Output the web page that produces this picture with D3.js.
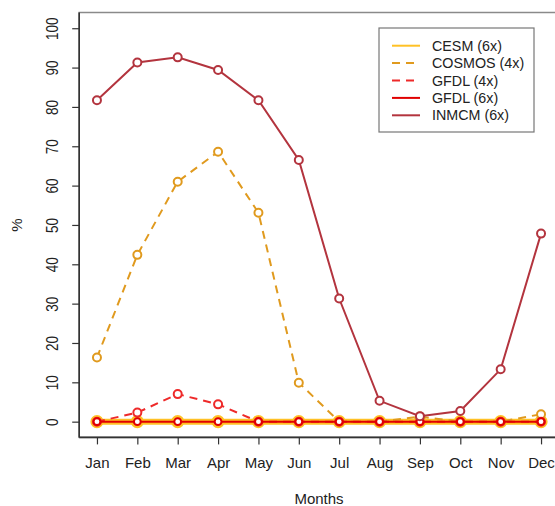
<!DOCTYPE html>
<html><head><meta charset="utf-8">
<script src="https://cdn.jsdelivr.net/npm/d3@7"></script>
<style>body{margin:0;background:#fff}svg{display:block;font-family:"Liberation Sans",Arial,sans-serif}</style>
</head><body><svg id="c" width="555" height="506"></svg>
<script>
const months = ["Jan","Feb","Mar","Apr","May","Jun","Jul","Aug","Sep","Oct","Nov","Dec"];
const yTicks = [0,10,20,30,40,50,60,70,80,90,100];
const cesm6   = [0,0,0,0,0,0,0,0,0,0,0,0];
const cosmos4 = [16.3,42.4,61.0,68.6,53.1,9.9,0,0,1.3,0,0,1.9];
const gfdl4   = [0,2.3,7.0,4.4,0,0,0,0,0,0,0,0];
const gfdl6   = [0,0,0,0,0,0,0,0,0,0,0,0];
const inmcm6  = [81.7,91.3,92.6,89.4,81.7,66.5,31.3,5.3,1.4,2.7,13.3,47.8];

const series = [
  {name:"CESM (6x)",   values:cesm6,   color:"#FFC125", width:6,   dash:null, r:4.6, cw:4},
  {name:"COSMOS (4x)", values:cosmos4, color:"#E09A1E", width:2,   dash:"8,6", r:4, cw:2},
  {name:"GFDL (4x)",   values:gfdl4,   color:"#EE2A2A", width:2,   dash:"8,6", r:4, cw:2},
  {name:"GFDL (6x)",   values:gfdl6,   color:"#E00000", width:2,   dash:null, r:3.4, cw:2},
  {name:"INMCM (6x)",  values:inmcm6,  color:"#B3343E", width:2,   dash:null, r:4, cw:2}
];

const svg = d3.select("#c");
const x = d3.scaleLinear().domain([0.56,12.44]).range([79.2,558.8]);
const y = d3.scaleLinear().domain([-4,104]).range([437.4,12.5]);

// frame
svg.append("rect").attr("x",79.2).attr("y",12.5).attr("width",479.6).attr("height",424.9)
  .attr("fill","none").attr("stroke","#8a8a8a").attr("stroke-width",1.5);
svg.append("line").attr("x1",79.2).attr("x2",79.2).attr("y1",12.5).attr("y2",437.4).attr("stroke","#333").attr("stroke-width",1.6);
svg.append("line").attr("x1",79.2).attr("x2",558.8).attr("y1",437.4).attr("y2",437.4).attr("stroke","#333").attr("stroke-width",1.6);

// y axis
const ya = svg.append("g").attr("transform","translate(79.2,0)")
  .call(d3.axisLeft(y).tickValues(yTicks).tickSize(7).tickSizeOuter(0).tickPadding(0));
ya.select(".domain").remove();
ya.selectAll(".tick line").attr("stroke","#333").attr("stroke-width",1.2);
ya.selectAll(".tick text").remove();
ya.selectAll(".tick").append("text").attr("transform","translate(-27,0) rotate(-90) scale(0.9,1.08)")
  .attr("text-anchor","middle").attr("dy","0.36em").attr("fill","#222").attr("font-size",15)
  .text(d=>d);

// x axis
const xa = svg.append("g").attr("transform","translate(0,437.4)")
  .call(d3.axisBottom(x).tickValues(d3.range(1,13)).tickSize(7).tickSizeOuter(0).tickFormat(d=>months[d-1]).tickPadding(13));
xa.select(".domain").remove();
xa.selectAll(".tick line").attr("stroke","#333").attr("stroke-width",1.2);
xa.selectAll(".tick text").attr("font-size",15).attr("fill","#222").attr("font-family","Liberation Sans, Arial, sans-serif");

svg.append("text").attr("x",319).attr("y",504).attr("text-anchor","middle").attr("font-size",15).attr("fill","#222").text("Months");
svg.append("text").attr("transform","translate(22,225) rotate(-90)").attr("text-anchor","middle").attr("font-size",15).attr("fill","#222").text("%");

const line = d3.line().x((d,i)=>x(i+1)).y(d=>y(d));
series.forEach(s=>{
  const g = svg.append("g");
  g.append("path").datum(s.values).attr("d",line).attr("fill","none").attr("stroke",s.color)
    .attr("stroke-width",s.width).attr("stroke-dasharray",s.dash);
  g.selectAll("circle").data(s.values).join("circle").attr("cx",(d,i)=>x(i+1)).attr("cy",d=>y(d))
    .attr("r",s.r).attr("fill","#fff").attr("stroke",s.color).attr("stroke-width",s.cw);
});

// legend
const lg = svg.append("g");
lg.append("rect").attr("x",379).attr("y",28).attr("width",155).attr("height",104)
  .attr("fill","#fff").attr("stroke","#777").attr("stroke-width",1.2);
series.forEach((s,i)=>{
  const yy = 45.7 + i*17.4;
  lg.append("line").attr("x1",392).attr("x2",420).attr("y1",yy).attr("y2",yy)
    .attr("stroke",s.color).attr("stroke-width",2).attr("stroke-dasharray",s.dash?"8,6":null);
  lg.append("text").attr("x",432).attr("y",yy).attr("dy","0.36em").attr("font-size",14.3).attr("fill","#222").text(s.name);
});
</script></body></html>
